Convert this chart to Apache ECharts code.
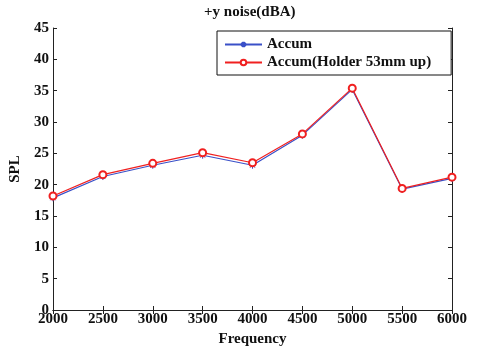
<!DOCTYPE html>
<html>
<head>
<meta charset="utf-8">
<script src="https://cdn.jsdelivr.net/npm/echarts@6/dist/echarts.min.js"></script>
<style>
  html, body { margin: 0; padding: 0; background: #fff; }
  #chart { width: 479px; height: 348px; }
</style>
</head>
<body>
<div id="chart"></div>
<script>
    // data
    var frequency = [2000, 2500, 3000, 3500, 4000, 4500, 5000, 5500, 6000];
    var accum = [17.9, 21.3, 23.1, 24.7, 23.1, 27.9, 35.2, 19.3, 21.0];
    var accumHolder = [18.2, 21.6, 23.4, 25.1, 23.5, 28.1, 35.4, 19.4, 21.2];
    var seriesNames = ['Accum', 'Accum(Holder 53mm up)'];

    var font = '"Liberation Serif", "Times New Roman", serif';
    var star = 'path://M5,0 L5,10 M0,5 L10,5 M1.5,1.5 L8.5,8.5 M8.5,1.5 L1.5,8.5';

    function pairs(xs, ys) {
        var out = [];
        for (var i = 0; i < xs.length; i++) {
            out.push([xs[i], ys[i]]);
        }
        return out;
    }

    var chart = echarts.init(document.getElementById('chart'));

    var tickInside = { show: true, inside: true, length: 4, lineStyle: { color: '#222' } };
    var axisLineStyle = { show: true, lineStyle: { color: '#222', width: 1 } };
    var labelStyle = { fontFamily: font, fontSize: 15, fontWeight: 'bold', color: '#111' };

    var option = {
        animation: false,
        backgroundColor: '#fff',
        graphic: [{
            type: 'text',
            left: 204,
            top: 5,
            style: {
                text: '+y noise(dBA)',
                font: 'bold 15px ' + font,
                fill: '#111'
            }
        }],
        legend: {
            orient: 'vertical',
            left: 217,
            top: 31,
            width: 233,
            padding: [6, 20, 5, 7],
            itemGap: 3,
            itemWidth: 37,
            itemHeight: 7,
            backgroundColor: '#fff',
            borderColor: '#111',
            borderWidth: 1,
            borderRadius: 0,
            data: seriesNames,
            textStyle: { fontFamily: font, fontSize: 15, fontWeight: 'bold', color: '#111' }
        },
        grid: { left: 53, right: 27, top: 28, bottom: 38, outerBoundsMode: 'none' },
        xAxis: [
            {
                type: 'value',
                min: 2000,
                max: 6000,
                interval: 500,
                name: 'Frequency',
                nameLocation: 'middle',
                nameGap: 22,
                nameTextStyle: labelStyle,
                axisLine: axisLineStyle,
                axisTick: tickInside,
                splitLine: { show: false },
                axisLabel: Object.assign({ margin: 2, formatter: function (v) { return String(v); } }, labelStyle)
            },
            {
                type: 'value',
                position: 'top',
                min: 2000,
                max: 6000,
                interval: 500,
                axisLine: axisLineStyle,
                axisTick: tickInside,
                splitLine: { show: false },
                axisLabel: { show: false }
            }
        ],
        yAxis: [
            {
                type: 'value',
                min: 0,
                max: 45,
                interval: 5,
                name: 'SPL',
                nameLocation: 'middle',
                nameGap: 30,
                nameRotate: 90,
                nameTextStyle: labelStyle,
                axisLine: axisLineStyle,
                axisTick: tickInside,
                splitLine: { show: false },
                axisLabel: Object.assign({ margin: 4 }, labelStyle)
            },
            {
                type: 'value',
                position: 'right',
                min: 0,
                max: 45,
                interval: 5,
                axisLine: axisLineStyle,
                axisTick: tickInside,
                splitLine: { show: false },
                axisLabel: { show: false }
            }
        ],
        series: [
            {
                name: seriesNames[0],
                type: 'line',
                data: pairs(frequency, accum),
                symbol: star,
                symbolSize: 7,
                color: '#3a50c8',
                lineStyle: { width: 1.2, color: '#3a50c8' },
                itemStyle: { color: '#3a50c8', borderColor: '#3a50c8', borderWidth: 1 },
                z: 2
            },
            {
                name: seriesNames[1],
                type: 'line',
                data: pairs(frequency, accumHolder),
                symbol: 'emptyCircle',
                symbolSize: 7,
                color: '#f02020',
                lineStyle: { width: 1.2, color: '#f02020' },
                itemStyle: { color: '#f02020', borderColor: '#f02020', borderWidth: 1 },
                z: 3
            }
        ]
    };

    chart.setOption(option);
</script>
</body>
</html>
